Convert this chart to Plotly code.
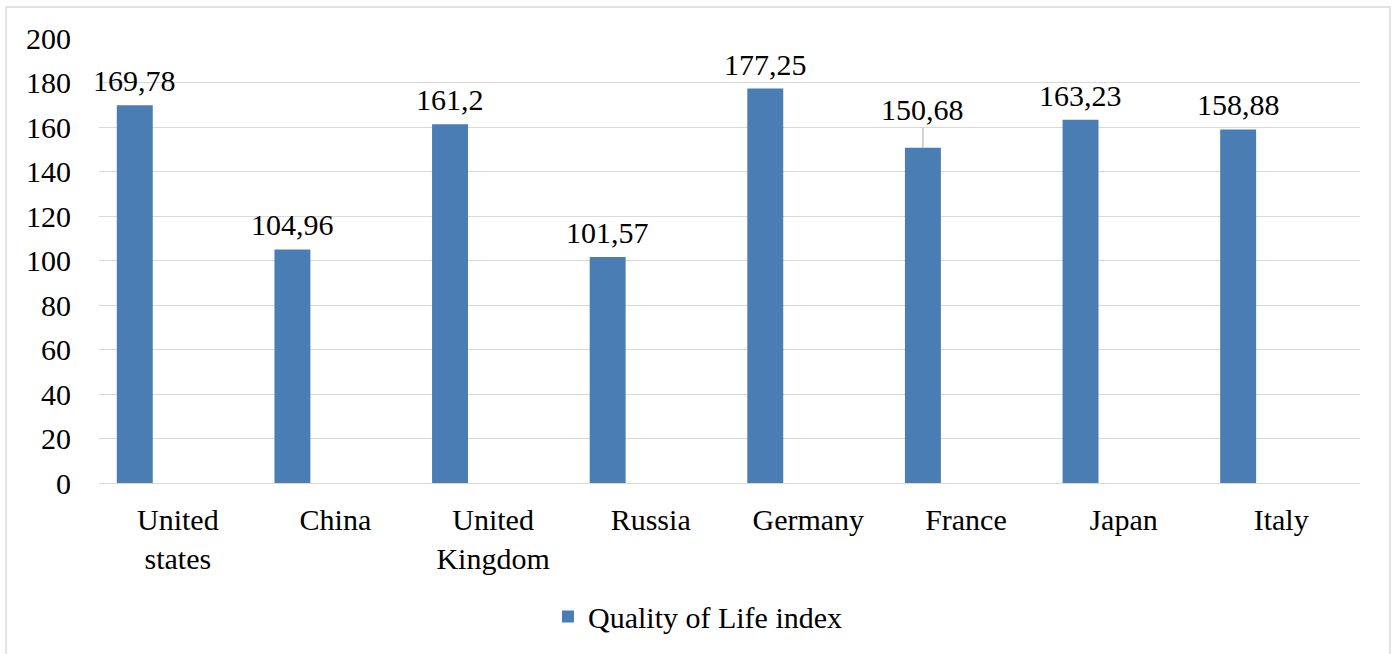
import plotly.graph_objects as go

countries = ["United<br>states", "China", "United<br>Kingdom", "Russia", "Germany", "France", "Japan", "Italy"]
values = [169.78, 104.96, 161.2, 101.57, 177.25, 150.68, 163.23, 158.88]
labels = ["169,78", "104,96", "161,2", "101,57", "177,25", "150,68", "163,23", "158,88"]
series_name = "Quality of Life index"

FONT = "Liberation Serif"
FS = 30
BAR_COLOR = "#4a7db3"
BAR_OFFSET = -0.387
BAR_WIDTH = 0.228
LABEL_SHIFT = -43  # px, bar centre relative to category centre

fig = go.Figure()
fig.add_trace(go.Bar(
    x=countries, y=values, name=series_name,
    marker=dict(color=BAR_COLOR, line=dict(width=0)),
    offset=BAR_OFFSET, width=BAR_WIDTH,
    showlegend=True,
))

annotations = []
for c, v, t in zip(countries, values, labels):
    if t == "150,68":
        annotations.append(dict(
            x=c, y=v, text=t, showarrow=True, arrowhead=0, arrowwidth=1,
            arrowcolor="#a6a6a6", ax=0, ay=-38, standoff=0, xshift=LABEL_SHIFT,
            font=dict(family=FONT, size=FS, color="black"),
        ))
    else:
        annotations.append(dict(
            x=c, y=v, text=t, showarrow=False, yanchor="bottom", yshift=6,
            xshift=LABEL_SHIFT, font=dict(family=FONT, size=FS, color="black"),
        ))

fig.update_layout(
    width=1395, height=654,
    margin=dict(l=99, r=35, t=38, b=169),
    paper_bgcolor="white", plot_bgcolor="white",
    font=dict(family=FONT, size=FS, color="black"),
    annotations=annotations,
    showlegend=True,
    legend=dict(orientation="h", x=0.475, xanchor="center", y=-0.30, yanchor="middle",
                font=dict(family=FONT, size=FS, color="black"), itemwidth=30),
    xaxis=dict(range=[-0.5, len(countries) - 0.5], autorange=False,
               showgrid=False, showline=False, ticks="", ticklabelstandoff=16,
               tickfont=dict(family=FONT, size=FS, color="black")),
    yaxis=dict(range=[0, 200], dtick=20, showgrid=True, gridcolor="#d9d9d9", gridwidth=1.3,
               zeroline=True, zerolinecolor="#d9d9d9", zerolinewidth=1.3,
               showline=False, ticks="", ticklabelstandoff=27,
               tickfont=dict(family=FONT, size=FS, color="black")),
    shapes=[dict(type="rect", xref="paper", yref="paper",
                 x0=-0.0737, x1=1.0238, y0=-0.45, y1=1.0694,
                 line=dict(color="#d9d9d9", width=1.5), fillcolor="rgba(0,0,0,0)", layer="below")],
)

fig.write_html("out.html", config={"displayModeBar": False},
               post_script="document.body.style.margin='0';")
